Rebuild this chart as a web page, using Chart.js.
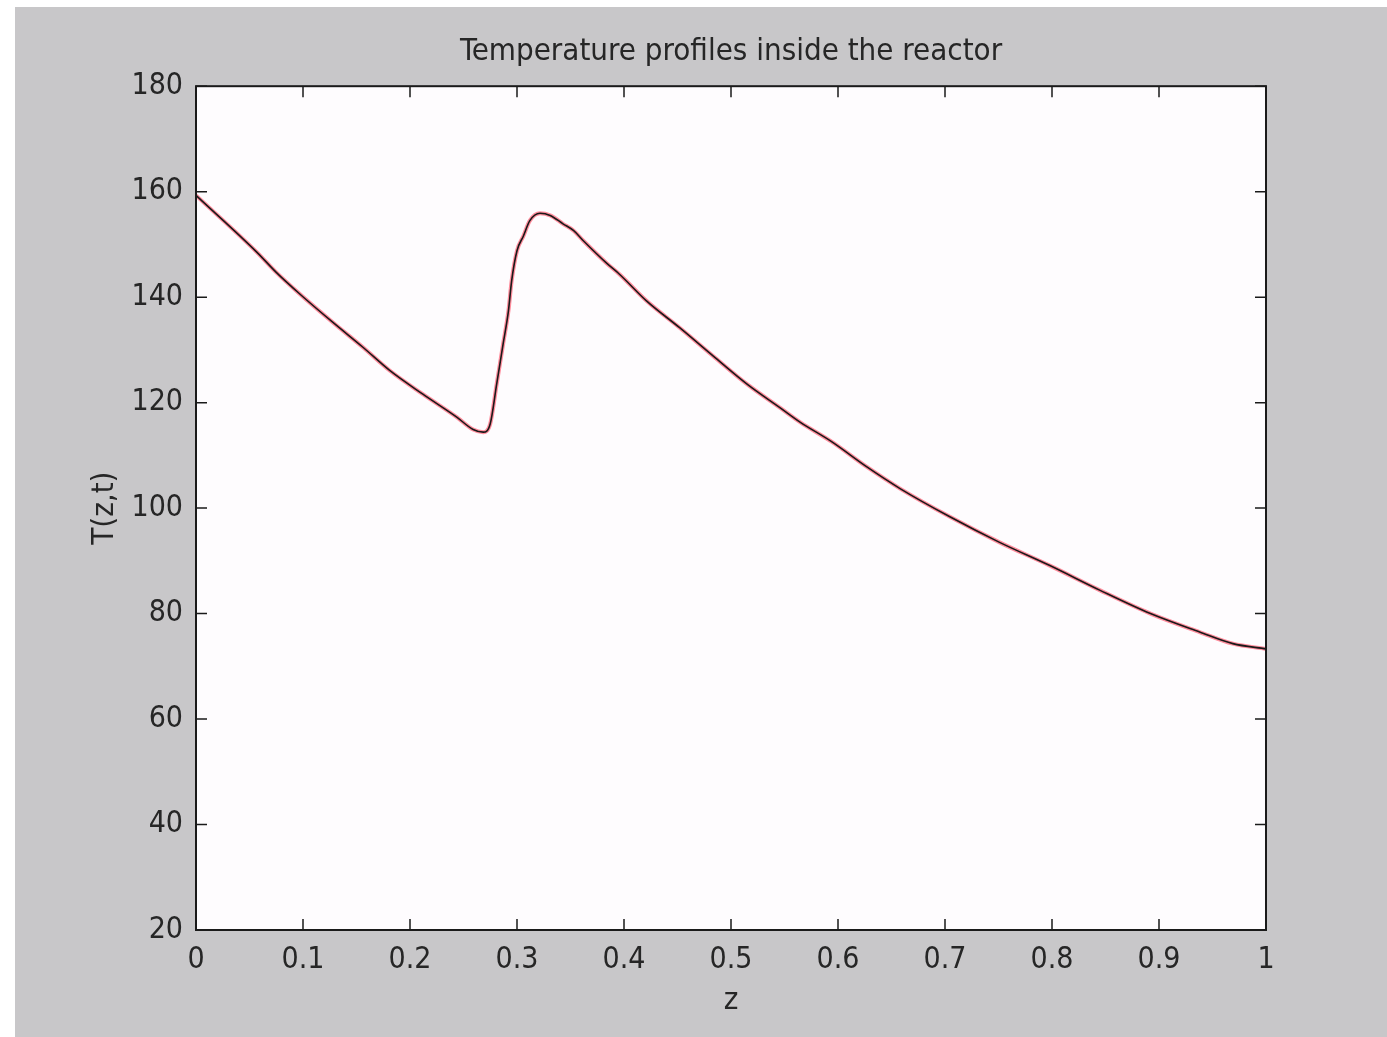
<!DOCTYPE html>
<html>
<head>
<meta charset="utf-8">
<title>Temperature profiles inside the reactor</title>
<script src="https://cdn.jsdelivr.net/npm/chart.js@4.4.1/dist/chart.umd.min.js"></script>
<style>
  html, body { margin: 0; padding: 0; background: #ffffff; }
  #frame {
    position: absolute;
    left: 15px; top: 7px;
    width: 1372px; height: 1030px;
    background: #c8c7c9;
  }
</style>
</head>
<body>
<div id="frame"><canvas id="reactorChart"></canvas></div>
<script>
// Axial position and temperature
const zValues = [
    0.000, 0.057, 0.075, 0.097, 0.128, 0.156, 0.181, 0.212, 0.244, 0.259,
    0.2685, 0.275, 0.281, 0.287, 0.292, 0.295, 0.300, 0.306, 0.312, 0.3215,
    0.331, 0.343, 0.353, 0.362, 0.384, 0.396, 0.421, 0.452, 0.4835, 0.515,
    0.546, 0.5645, 0.594, 0.627, 0.658, 0.705, 0.751, 0.798, 0.845, 0.892,
    0.938, 0.969, 1.000
];
const tempValues = [
    159.3, 148.5, 144.7, 140.6, 135.2, 130.5, 126.1, 121.6, 117.2, 114.9,
    114.4, 116.0, 123.5, 131.1, 137.4, 143.1, 148.8, 151.6, 154.5, 155.9,
    155.5, 153.9, 152.6, 150.7, 146.4, 144.3, 139.3, 134.2, 128.8, 123.5,
    119.0, 116.3, 112.6, 107.8, 103.7, 98.3, 93.5, 89.1, 84.4, 80.0,
    76.5, 74.3, 73.3
];

// Axis ticks
const xTickValues = [0, 0.1, 0.2, 0.3, 0.4, 0.5, 0.6, 0.7, 0.8, 0.9, 1];
const xTickLabels = ['0', '0.1', '0.2', '0.3', '0.4', '0.5', '0.6', '0.7', '0.8', '0.9', '1'];
const yTickValues = [20, 40, 60, 80, 100, 120, 140, 160, 180];
const yTickLabels = ['20', '40', '60', '80', '100', '120', '140', '160', '180'];

const FONT = '"Liberation Sans Narrow", "DejaVu Sans Condensed", "Liberation Sans", sans-serif';
const TEXT_COLOR = '#262626';

const points = zValues.map((z, i) => ({ x: z, y: tempValues[i] }));

// white plot area + matlab style box with inward ticks on all four sides
const axesBox = {
    id: 'axesBox',
    beforeDatasetsDraw(chart) {
        const { ctx, chartArea: a } = chart;
        ctx.save();
        ctx.fillStyle = '#fefcfe';
        ctx.fillRect(a.left, a.top, a.right - a.left, a.bottom - a.top);
        ctx.restore();
    },
    afterDatasetsDraw(chart) {
        const { ctx, chartArea: a, scales } = chart;
        const len = 11;
        ctx.save();
        ctx.strokeStyle = '#1a1a1a';
        ctx.lineWidth = 1.5;
        ctx.beginPath();
        scales.x.ticks.forEach(t => {
            const px = scales.x.getPixelForValue(t.value);
            ctx.moveTo(px, a.bottom); ctx.lineTo(px, a.bottom - len);
            ctx.moveTo(px, a.top); ctx.lineTo(px, a.top + len);
        });
        scales.y.ticks.forEach(t => {
            const py = scales.y.getPixelForValue(t.value);
            ctx.moveTo(a.left, py); ctx.lineTo(a.left + len, py);
            ctx.moveTo(a.right, py); ctx.lineTo(a.right - len, py);
        });
        ctx.stroke();
        ctx.lineWidth = 2;
        ctx.strokeRect(a.left, a.top, a.right - a.left, a.bottom - a.top);
        ctx.restore();
    }
};

new Chart(document.getElementById('reactorChart'), {
    type: 'line',
    data: {
        datasets: [
            {
                label: 'T black',
                data: points,
                borderColor: '#1a1a1a',
                borderWidth: 1.6,
                pointRadius: 0,
                cubicInterpolationMode: 'monotone'
            },
            {
                label: 'T red',
                data: points,
                borderColor: 'rgba(255, 30, 60, 0.5)',
                borderWidth: 4,
                pointRadius: 0,
                cubicInterpolationMode: 'monotone'
            }
        ]
    },
    options: {
        responsive: true,
        maintainAspectRatio: false,
        animation: false,
        layout: { padding: { left: 50, right: 121, top: 0, bottom: 0 } },
        plugins: {
            legend: { display: false },
            tooltip: { enabled: false },
            title: {
                display: true,
                fullSize: false,
                text: 'Temperature profiles inside the reactor',
                color: TEXT_COLOR,
                font: { family: FONT, size: 31, weight: 'normal' },
                padding: { top: 26, bottom: 16 }
            }
        },
        scales: {
            x: {
                type: 'linear',
                min: 0,
                max: 1,
                afterBuildTicks: s => { s.ticks = xTickValues.map(v => ({ value: v })); },
                afterFit: s => { s.height = 107; },
                grid: { display: false, drawTicks: false },
                border: { display: false },
                ticks: {
                    color: TEXT_COLOR,
                    font: { family: FONT, size: 30 },
                    padding: 12,
                    maxRotation: 0,
                    callback: (v, i) => xTickLabels[i]
                },
                title: {
                    display: true,
                    text: 'z',
                    color: TEXT_COLOR,
                    font: { family: FONT, size: 31 },
                    padding: { top: 17, bottom: 17 }
                }
            },
            y: {
                type: 'linear',
                min: 20,
                max: 180,
                afterBuildTicks: s => { s.ticks = yTickValues.map(v => ({ value: v })); },
                afterFit: s => { s.width = 131; },
                grid: { display: false, drawTicks: false },
                border: { display: false },
                ticks: {
                    color: TEXT_COLOR,
                    font: { family: FONT, size: 30 },
                    padding: 13,
                    callback: (v, i) => yTickLabels[i]
                },
                title: {
                    display: true,
                    text: 'T(z,t)',
                    color: TEXT_COLOR,
                    font: { family: FONT, size: 31 },
                    padding: { top: 21, bottom: 21 }
                }
            }
        }
    },
    plugins: [axesBox]
});
</script>
</body>
</html>
